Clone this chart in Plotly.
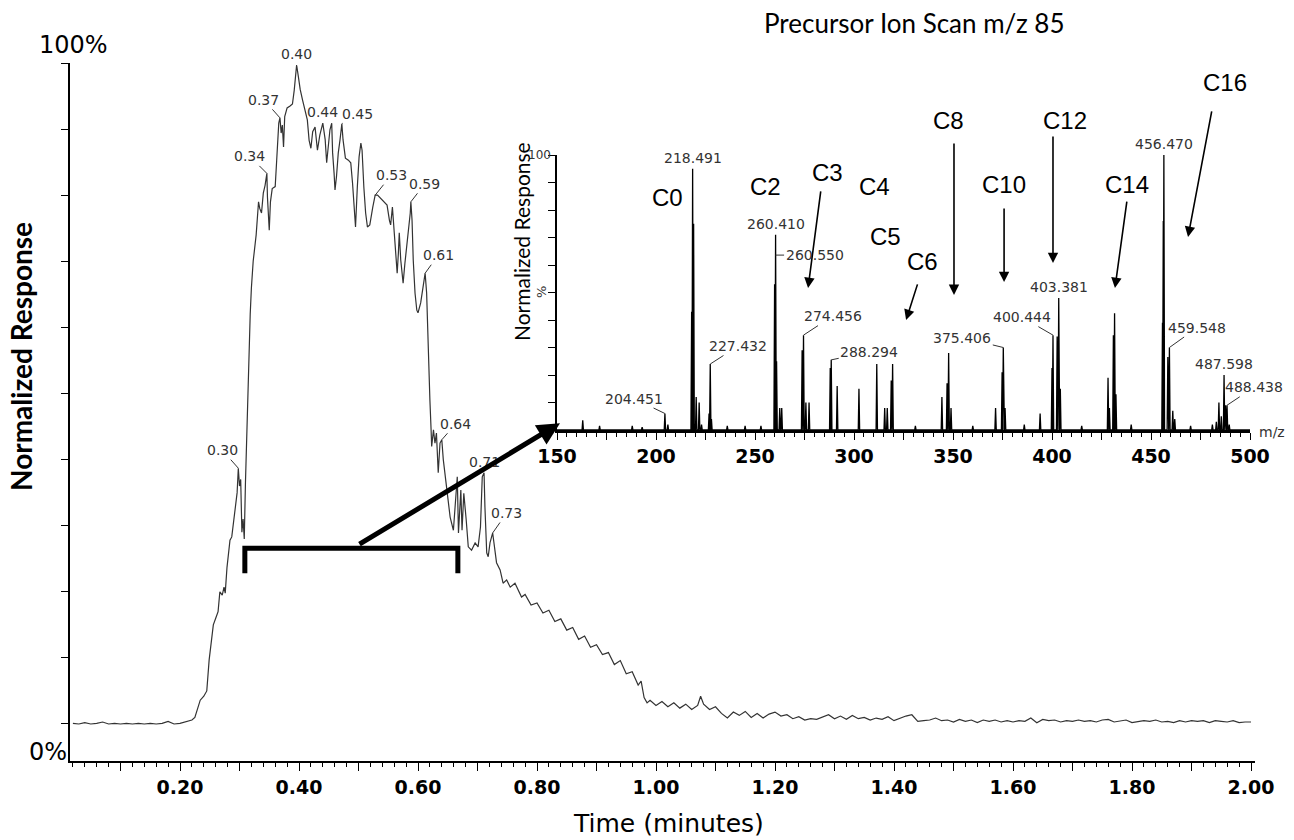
import plotly.graph_objects as go
import numpy as np

W, H = 1294, 840

# ---------------- Chromatogram (time in minutes, normalized response %) ----------------
TIME_BASE = [0.02, 0.03, 0.04, 0.05, 0.06, 0.07, 0.08, 0.09, 0.10, 0.11, 0.12, 0.13, 0.14,
             0.15, 0.16, 0.17, 0.18, 0.19, 0.20, 0.21, 0.22]
RESP_BASE = [0.1, 0.0, 0.2, 0.0, 0.1, 0.3, 0.0, 0.1, 0.0, 0.1, 0.0, 0.1, 0.0,
             0.1, 0.0, 0.1, 0.4, 0.0, 0.1, 0.3, 0.6]

TIME_PEAK = [0.225, 0.234, 0.240, 0.245, 0.249, 0.256, 0.260, 0.264, 0.267, 0.271,
             0.274, 0.276, 0.279, 0.284, 0.287, 0.289, 0.292, 0.296, 0.298, 0.300,
             0.302, 0.304, 0.306, 0.308, 0.310, 0.312, 0.315, 0.318, 0.320, 0.323,
             0.328, 0.332, 0.334, 0.337, 0.340, 0.343, 0.346, 0.347, 0.350, 0.352,
             0.355, 0.360, 0.3625, 0.366, 0.368, 0.370, 0.372, 0.374, 0.376, 0.380,
             0.385, 0.389, 0.392, 0.396, 0.399, 0.402, 0.406, 0.410, 0.414, 0.417,
             0.420, 0.423, 0.427, 0.431, 0.435, 0.440, 0.444, 0.4465, 0.449, 0.452,
             0.455, 0.4565, 0.459, 0.4605, 0.463, 0.466, 0.469, 0.472, 0.474, 0.478,
             0.483, 0.487, 0.490, 0.492, 0.495, 0.498, 0.501, 0.504, 0.506, 0.509,
             0.512, 0.515, 0.519, 0.524, 0.528, 0.532, 0.539, 0.5445, 0.548, 0.552,
             0.554, 0.557, 0.560, 0.563, 0.565, 0.567, 0.5685, 0.571, 0.574, 0.575,
             0.578, 0.581, 0.584, 0.587, 0.588, 0.590, 0.592, 0.595, 0.598, 0.600,
             0.6045, 0.608, 0.612, 0.6145, 0.616, 0.6175, 0.620, 0.622, 0.623, 0.626,
             0.6285, 0.631, 0.634, 0.637, 0.640, 0.6425, 0.648, 0.654, 0.6595, 0.664,
             0.666, 0.668, 0.672, 0.674, 0.677, 0.681, 0.6845, 0.690, 0.696, 0.701,
             0.705, 0.708, 0.711, 0.7125, 0.7155, 0.718, 0.721, 0.7255, 0.728, 0.732,
             0.738, 0.743, 0.749, 0.755, 0.763, 0.7685, 0.774]
RESP_PEAK = [1.0, 3.6, 4.2, 5.0, 9.7, 15.0, 16.0, 17.0, 20.0, 19.5,
             20.7, 19.8, 23.7, 27.8, 28.3, 29.8, 32.7, 35.0, 38.7, 36.0,
             37.0, 29.0, 31.0, 28.0, 36.5, 44.0, 55.0, 62.0, 66.0, 70.0,
             74.0, 79.0, 78.0, 77.3, 80.3, 81.5, 83.3, 79.7, 74.7, 79.0,
             81.0, 81.3, 85.3, 90.9, 91.7, 89.4, 90.6, 87.3, 91.9, 93.2,
             93.5, 93.8, 95.9, 99.7, 97.9, 96.0, 94.4, 92.9, 91.4, 88.3,
             87.1, 89.6, 90.3, 86.8, 89.1, 90.9, 88.4, 84.9, 87.3, 89.9,
             90.9, 86.4, 83.3, 80.8, 82.8, 86.4, 88.4, 90.8, 88.4, 85.6,
             85.3, 84.9, 81.8, 78.8, 75.2, 81.2, 85.8, 87.9, 86.8, 81.2,
             77.3, 75.2, 75.5, 78.2, 80.0, 80.0, 79.3, 78.8, 78.5, 76.2,
             75.5, 78.2, 74.3, 70.2, 68.2, 71.2, 74.3, 70.2, 67.6, 66.7,
             69.7, 72.2, 74.3, 77.3, 79.0, 76.2, 70.2, 65.2, 62.6, 62.2,
             63.7, 66.1, 68.2, 65.2, 59.6, 54.0, 49.0, 44.5, 42.0, 44.5,
             42.5, 44.0, 38.0, 42.5, 43.0, 40.0, 35.4, 31.3, 29.3, 35.9,
             37.4, 28.9, 35.4, 29.3, 34.9, 30.9, 26.8, 26.3, 27.4, 26.8,
             29.8, 37.4, 38.0, 32.8, 25.9, 25.3, 27.4, 28.9, 26.8, 24.4,
             23.3, 21.3, 21.8, 20.7, 21.3, 20.3, 19.2]

TIME_TAIL = [0.78, 0.79, 0.80, 0.81, 0.82, 0.83, 0.84, 0.85, 0.86, 0.87,
             0.88, 0.89, 0.90, 0.91, 0.92, 0.93, 0.94, 0.95, 0.96, 0.97,
             0.975, 0.98, 0.985, 0.99, 1.00, 1.01, 1.02, 1.03, 1.04, 1.05,
             1.06, 1.07, 1.075, 1.08, 1.09, 1.10, 1.11, 1.12, 1.13, 1.14,
             1.15, 1.16, 1.17, 1.18, 1.19, 1.20, 1.21, 1.22, 1.23, 1.24,
             1.25, 1.26, 1.27, 1.28, 1.29, 1.30, 1.31, 1.32, 1.33, 1.34,
             1.35, 1.36, 1.37, 1.38, 1.39, 1.40, 1.41, 1.42, 1.43, 1.44,
             1.45, 1.46, 1.47, 1.48, 1.49, 1.50, 1.51, 1.52, 1.53, 1.54,
             1.55, 1.56, 1.57, 1.58, 1.59, 1.60, 1.61, 1.62, 1.63, 1.64,
             1.65, 1.66, 1.67, 1.68, 1.69, 1.70, 1.71, 1.72, 1.73, 1.74,
             1.75, 1.76, 1.77, 1.78, 1.79, 1.80, 1.81, 1.82, 1.83, 1.84,
             1.85, 1.86, 1.87, 1.88, 1.89, 1.90, 1.91, 1.92, 1.93, 1.94,
             1.95, 1.96, 1.97, 1.98, 1.99, 2.00]
RESP_TAIL = [19.6, 18.0, 18.3, 16.8, 17.2, 15.5, 15.9, 14.2, 14.6, 12.8,
             13.3, 11.6, 12.0, 10.5, 10.8, 9.0, 9.6, 7.6, 7.9, 5.9,
             6.5, 4.0, 3.2, 3.6, 2.8, 3.4, 2.6, 3.2, 2.4, 3.0,
             2.2, 2.8, 4.2, 3.0, 2.2, 2.6, 1.6, 0.9, 1.8, 1.3,
             1.9, 1.0, 1.6, 0.9, 1.5, 1.8, 1.2, 1.4, 0.8, 1.1,
             0.6, 0.8, 0.7, 1.0, 1.4, 0.8, 1.2, 0.7, 1.3, 0.8,
             1.0, 0.6, 0.9, 0.7, 1.1, 0.5, 0.9, 1.2, 1.4, 0.4,
             0.5, 0.6, 0.9, 0.5, 0.6, 0.3, 0.7, 0.4, 0.6, 0.2,
             0.6, 0.4, 0.6, 0.3, 0.5, 0.3, 0.5, 0.4, 0.9, 0.2,
             0.7, 0.5, 0.6, 0.3, 0.5, 0.4, 0.6, 0.4, 0.5, 0.3,
             0.6, 0.7, 0.3, 0.5, 0.6, 0.2, 0.4, 0.5, 0.4, 0.6,
             0.3, 0.4, 0.2, 0.5, 0.3, 0.5, 0.4, 0.5, 0.2, 0.5,
             0.4, 0.3, 0.5, 0.2, 0.3, 0.3]

TIME = TIME_BASE + TIME_PEAK + TIME_TAIL
RESP = RESP_BASE + RESP_PEAK + RESP_TAIL
assert len(TIME) == len(RESP)

# labelled retention times on the chromatogram
RT_LABELS = ["0.30", "0.34", "0.37", "0.40", "0.44", "0.45", "0.53", "0.59", "0.61", "0.64", "0.71", "0.73"]
RT_AT = [0.298, 0.346, 0.368, 0.396, 0.440, 0.472, 0.528, 0.588, 0.612, 0.640, 0.711, 0.7255]

# selected time window (bracket)
WINDOW = [0.309, 0.667]

# ---------------- Precursor ion scan spectrum (m/z, relative intensity %) ----------------
MZ = [163, 171.5, 188, 193, 204.5, 206, 218.0, 218.5, 219.0, 220.3, 221.8, 223,
      226.8, 227.4, 228, 236, 245, 253, 259.9, 260.4, 260.9, 262.5, 263.5,
      273.8, 274.5, 275.7, 277.3, 288.0, 288.5, 291.5, 302.5,
      311.5, 315.5, 316.8, 318.8, 319.5, 331, 344.4, 347.0, 347.8, 349.0,
      360, 371.5, 374.8, 375.4, 376.3, 386, 394,
      400.0, 400.5, 402.6, 403.4, 404.2, 415, 428.3, 429.0, 431.0, 431.6, 432.3,
      440, 455.8, 456.2, 456.5, 458.5, 459.3, 461, 462, 470,
      481, 483, 484.3, 485.5, 486.9, 487.6, 488.4, 489.5]
INTENSITY = [3.5, 1.5, 1.5, 1.0, 6.0, 2.0, 43, 95, 75, 12, 10, 2,
             6, 24, 4, 1.5, 1.5, 1.5, 53, 71, 25, 8, 8,
             29, 34.5, 10, 10, 22.5, 25.5, 16, 15,
             24, 8, 8, 18, 24, 1.5, 12, 17, 28, 8,
             1.5, 8, 21, 30, 8, 2, 6,
             22.5, 34.5, 34, 48, 15, 1.5, 19, 8, 34.5, 42.5, 13,
             2, 39, 76, 100, 26.5, 30, 7, 4, 1.5,
             2, 3, 10, 5, 20, 9, 9, 2]
assert len(MZ) == len(INTENSITY)

MZ_LABELS = ["204.451", "218.491", "227.432", "260.410", "260.550", "274.456", "288.294",
             "375.406", "400.444", "403.381", "456.470", "459.548", "487.598", "488.438"]
MZ_LABEL_AT = [(204.5, 6.0), (218.5, 95), (227.4, 24), (260.4, 71), (260.4, 63.6), (274.5, 34.5),
               (288.5, 25.5), (375.4, 30), (400.5, 34.5), (403.4, 48), (456.5, 100), (459.3, 30),
               (486.9, 20), (488.4, 9)]

# chain-length labels (text position, optional arrow tail -> head), inset data coords
C_LABELS = ["C0", "C2", "C3", "C4", "C5", "C6", "C8", "C10", "C12", "C14", "C16"]
C_TEXT_AT = [(205.6, 84.7), (255.1, 88.7), (286.4, 93.5), (310.6, 88.4), (315.7, 70.2),
             (334.8, 61.1), (347.5, 112.7), (375.8, 89.1), (406.6, 112.7), (437.9, 89.1), (487.4, 126.5)]
C_ARROWS = [None, None, ((283.3, 87.3), (276.8, 51.6)), None, None,
            ((332.3, 53.5), (326.3, 40.0)), ((350.5, 104.7), (350.5, 49.1)),
            ((375.8, 81.1), (375.8, 53.8)), ((400.5, 107.3), (400.5, 60.7)),
            ((437.9, 83.6), (431.8, 51.6)), ((480.8, 116.4), (468.7, 70.2))]

# ---------------- styles / layout helpers ----------------
RT_LABEL_OFFSETS = [(-16, -18), (-17, -17), (-16, -18), None, None, (16, -10), (16, -20),
                    (14, -18), (13, -18), (14, -16), None, (14, -20)]
MZ_LABEL_OFFSETS = [(-31, -15), None, (28, -18), None, (39, 0), (29, -19), (38, -8),
                    (-41, -10), (-31, -18), None, None, (28, -20), None, (27, -18)]

# inset placement (pixels)
INSET_X0, INSET_X1 = 557, 1250
INSET_Y0, INSET_Y1 = 430, 155
MZ_RANGE = [150, 500]


def paper(px, py):
    return px / W, 1 - py / H


def inset_paper(mz, v):
    px = INSET_X0 + (mz - MZ_RANGE[0]) / (MZ_RANGE[1] - MZ_RANGE[0]) * (INSET_X1 - INSET_X0)
    py = INSET_Y0 - v / 100.0 * (INSET_Y0 - INSET_Y1)
    return paper(px, py)


LABEL_FONT = dict(family="DejaVu Sans", size=14, color="#333333")
fig = go.Figure()

fig.add_trace(go.Scatter(x=TIME, y=RESP, mode="lines", xaxis="x", yaxis="y",
                         line=dict(color="#333333", width=1.2), hoverinfo="skip"))

# spectrum as narrow profile peaks
pairs = sorted(zip(MZ, INTENSITY))
sx, sy = [150.0], [0.0]
for m, h in pairs:
    sx += [m - 0.35, m, m + 0.35]
    sy += [0.0, h, 0.0]
sx.append(500.0)
sy.append(0.0)
fig.add_trace(go.Scatter(x=sx, y=sy, mode="lines", xaxis="x2", yaxis="y2",
                         line=dict(color="black", width=1.3), hoverinfo="skip"))

ann = []
# retention-time labels
for lab, t, off in zip(RT_LABELS, RT_AT, RT_LABEL_OFFSETS):
    yv = float(np.interp(t, TIME, RESP))
    if off is None:
        ann.append(dict(x=t, y=yv, xref="x", yref="y", text=lab, showarrow=False,
                        yanchor="bottom", yshift=1, font=LABEL_FONT))
    else:
        ann.append(dict(x=t, y=yv, xref="x", yref="y", text=lab, showarrow=True,
                        arrowhead=0, arrowwidth=1, arrowcolor="#333333", ax=off[0], ay=off[1],
                        standoff=0, font=LABEL_FONT))

# m/z labels
for lab, (m, h), off in zip(MZ_LABELS, MZ_LABEL_AT, MZ_LABEL_OFFSETS):
    if off is None:
        ann.append(dict(x=m, y=h, xref="x2", yref="y2", text=lab, showarrow=False,
                        yanchor="bottom", yshift=1, font=LABEL_FONT))
    else:
        ann.append(dict(x=m, y=h, xref="x2", yref="y2", text=lab, showarrow=True,
                        arrowhead=0, arrowwidth=1, arrowcolor="#333333", ax=off[0], ay=off[1],
                        standoff=0, font=LABEL_FONT))

# chain-length labels & arrows
C_FONT = dict(family="Liberation Sans", size=24, color="black")
for lab, (tx, ty), arr in zip(C_LABELS, C_TEXT_AT, C_ARROWS):
    px, py = inset_paper(tx, ty)
    ann.append(dict(x=px, y=py, xref="paper", yref="paper", text=lab, showarrow=False,
                    xanchor="center", yanchor="middle", font=C_FONT))
    if arr is not None:
        (x0, y0), (x1, y1) = arr
        ann.append(dict(x=x1, y=y1, xref="x2", yref="y2", ax=x0, ay=y0, axref="x2", ayref="y2",
                        text="", showarrow=True, arrowhead=2, arrowsize=1.3, arrowwidth=1.6,
                        arrowcolor="black", standoff=0))

# big arrow from the bracket to the spectrum
ann.append(dict(x=151.5, y=2.5, xref="x2", yref="y2", ax=-202, ay=122, text="",
                showarrow=True, arrowhead=2, arrowsize=0.9, arrowwidth=5,
                arrowcolor="black", standoff=0))


# free texts
def txt(s, px, py, font, angle=0, xanchor="center"):
    x, y = paper(px, py)
    ann.append(dict(x=x, y=y, xref="paper", yref="paper", text=s, showarrow=False,
                    font=font, textangle=angle, xanchor=xanchor, yanchor="middle"))


txt("Precursor Ion Scan m/z 85", 914, 23, dict(family="Lato", size=26, color="black"))
txt("100%", 73, 45, dict(family="DejaVu Sans", size=24, color="black"))
txt("0%", 48, 752, dict(family="DejaVu Sans", size=24, color="black"))
txt("Normalized Response", 21, 357, dict(family="Lato", size=28, color="black", weight="bold"), angle=-90)
txt("Time (minutes)", 668, 823, dict(family="DejaVu Sans", size=25, color="black"))
txt("100", 553, 155, dict(family="DejaVu Sans", size=12, color="#333333"), xanchor="right")
txt("%", 541, 292, dict(family="DejaVu Sans", size=13, color="#333333"), angle=-90)
txt("Normalized Response", 522, 242, dict(family="Lato", size=21, color="black"), angle=-90)
txt("m/z", 1272, 432, dict(family="DejaVu Sans", size=14, color="#333333"))

# bracket marking the selected window
BR_TOP, BR_BOT = 26.6, 22.8
shapes = [dict(type="path", xref="x", yref="y",
               path=f"M {WINDOW[0]},{BR_BOT} L {WINDOW[0]},{BR_TOP} L {WINDOW[1]},{BR_TOP} L {WINDOW[1]},{BR_BOT}",
               line=dict(color="black", width=5))]

XT = [round(0.1 * i, 2) for i in range(1, 21)]
XTT = [f"{v:.2f}" if i % 2 == 1 else "" for i, v in enumerate(XT)]
MZT = list(range(150, 501, 25))
MZTT = [str(v) if v % 50 == 0 else "" for v in MZT]

fig.update_layout(
    width=W, height=H, margin=dict(l=0, r=0, t=0, b=0),
    paper_bgcolor="white", plot_bgcolor="rgba(0,0,0,0)", showlegend=False,
    template="none",
    xaxis=dict(domain=[70 / W, 1255 / W], range=[0.01513, 2.00672], anchor="y",
               showgrid=False, zeroline=False, showline=True, linecolor="black", linewidth=2,
               ticks="outside", ticklen=8, tickwidth=1.3, tickcolor="black",
               tickmode="array", tickvals=XT, ticktext=XTT,
               tickfont=dict(family="DejaVu Sans", size=19, color="black", weight="bold"),
               minor=dict(tickmode="linear", tick0=0, dtick=0.02, ticklen=4, tickwidth=1,
                          tickcolor="black", ticks="outside", showgrid=False),
               automargin=False, fixedrange=True),
    yaxis=dict(domain=[(H - 761) / H, (H - 63) / H], range=[-5.6, 100], anchor="x",
               showgrid=False, zeroline=False, showline=True, linecolor="black", linewidth=2,
               ticks="outside", ticklen=7, tickwidth=1.3, tickcolor="black",
               tickmode="array", tickvals=list(range(0, 101, 10)), showticklabels=False,
               automargin=False, fixedrange=True),
    xaxis2=dict(domain=[INSET_X0 / W, INSET_X1 / W], range=MZ_RANGE, anchor="y2",
                showgrid=False, zeroline=False, showline=True, linecolor="black", linewidth=2.5,
                ticks="outside", ticklen=7, tickwidth=1.3, tickcolor="black",
                tickmode="array", tickvals=MZT, ticktext=MZTT,
                tickfont=dict(family="DejaVu Sans", size=19, color="black", weight="bold"),
                minor=dict(tickmode="linear", tick0=150, dtick=5, ticklen=4, tickwidth=1,
                           tickcolor="black", ticks="outside", showgrid=False),
                automargin=False, fixedrange=True),
    yaxis2=dict(domain=[(H - INSET_Y0) / H, (H - INSET_Y1) / H], range=[0, 100], anchor="x2",
                showgrid=False, zeroline=False, showline=True, linecolor="black", linewidth=2,
                ticks="outside", ticklen=7, tickwidth=1.3, tickcolor="black",
                tickmode="array", tickvals=list(range(0, 101, 10)), showticklabels=False,
                automargin=False, fixedrange=True),
    annotations=ann, shapes=shapes,
)

fig.write_html("out.html")
